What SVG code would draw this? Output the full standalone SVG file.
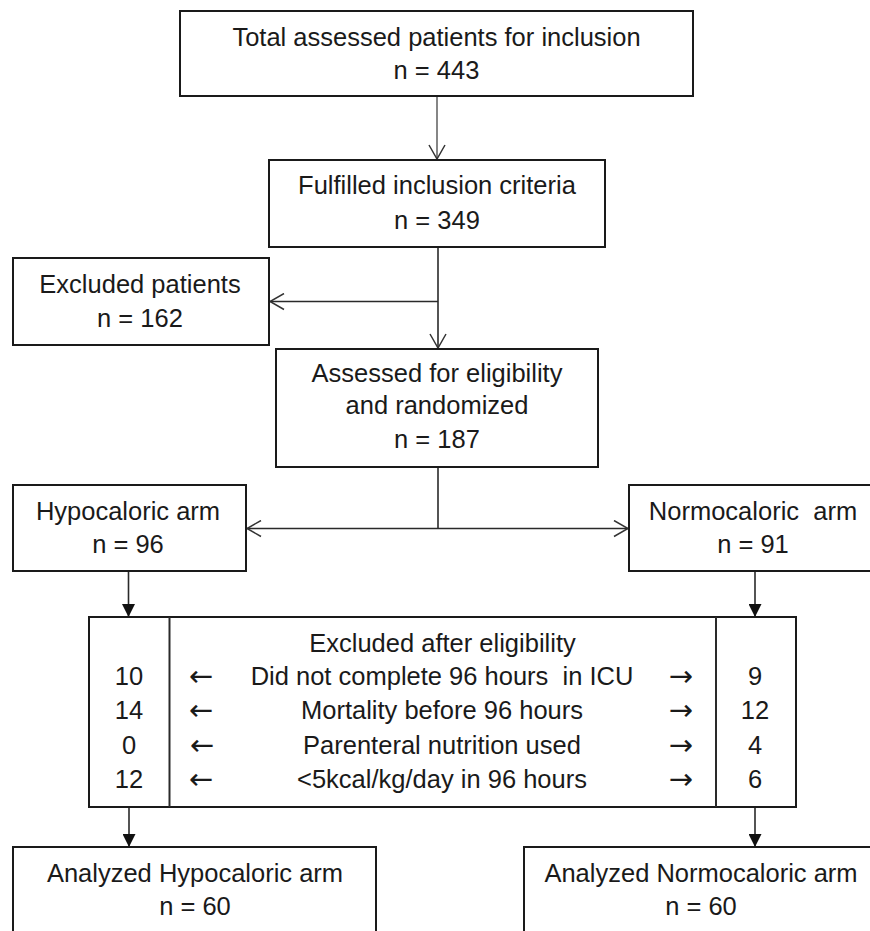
<svg xmlns="http://www.w3.org/2000/svg" width="870" height="931" viewBox="0 0 870 931">
<style>
  .box { fill: #ffffff; stroke: #1a1a1a; stroke-width: 2; }
  .t { font-family: "Liberation Sans", Arial, sans-serif; font-size: 25.5px; fill: #1a1a1a; text-anchor: middle; white-space: pre; }
  .ar { font-family: "DejaVu Sans", sans-serif; font-size: 29px; fill: #1a1a1a; text-anchor: middle; }
  .ln { fill: none; stroke: #2a2a2a; stroke-width: 1.6; }
  .lt { fill: none; stroke: #444; stroke-width: 1.3; }
</style>
<defs>
  <marker id="open" viewBox="0 0 16 18" refX="15" refY="9" markerWidth="16" markerHeight="18" orient="auto-start-reverse" markerUnits="userSpaceOnUse">
    <path d="M1,1 L15,9 L1,17" fill="none" stroke="#333" stroke-width="1.5"/>
  </marker>
  <marker id="solid" viewBox="0 0 13 13" refX="13" refY="6.5" markerWidth="13" markerHeight="13" orient="auto" markerUnits="userSpaceOnUse">
    <path d="M0,0 L13,6.5 L0,13 Z" fill="#111"/>
  </marker>
</defs>
<rect width="870" height="931" fill="#ffffff"/>

<g id="connectors">
  <path class="lt" d="M437,96 V159" marker-end="url(#open)"/>
  <path class="ln" d="M438,247 V348" marker-end="url(#open)"/>
  <path class="ln" d="M438,301.5 H270" marker-end="url(#open)"/>
  <path class="ln" d="M438,467 V528.5"/>
  <path class="ln" d="M438,528.5 H247" marker-end="url(#open)"/>
  <path class="ln" d="M438,528.5 H628" marker-end="url(#open)"/>
  <path class="ln" d="M128.5,571 V617" marker-end="url(#solid)"/>
  <path class="ln" d="M755,571 V617" marker-end="url(#solid)"/>
  <path class="ln" d="M129,807 V847" marker-end="url(#solid)"/>
  <path class="ln" d="M755,807 V847" marker-end="url(#solid)"/>
</g>

<g id="total">
  <rect class="box" x="180" y="11" width="513" height="85"/>
  <text class="t" x="436.5" y="45.5">Total assessed patients for inclusion</text>
  <text class="t" x="436.5" y="79">n = 443</text>
</g>

<g id="fulfilled">
  <rect class="box" x="269" y="160" width="336" height="87"/>
  <text class="t" x="437" y="194">Fulfilled inclusion criteria</text>
  <text class="t" x="437" y="229">n = 349</text>
</g>

<g id="excluded">
  <rect class="box" x="13" y="258" width="256" height="87"/>
  <text class="t" x="140" y="292.5">Excluded patients</text>
  <text class="t" x="140" y="326.5">n = 162</text>
</g>

<g id="assessed">
  <rect class="box" x="276" y="349" width="322" height="118"/>
  <text class="t" x="437" y="381.5">Assessed for eligibility</text>
  <text class="t" x="437" y="414">and randomized</text>
  <text class="t" x="437" y="448">n = 187</text>
</g>

<g id="hypocaloric">
  <rect class="box" x="13" y="485" width="233" height="86"/>
  <text class="t" x="128" y="520">Hypocaloric arm</text>
  <text class="t" x="128" y="553">n = 96</text>
</g>

<g id="normocaloric">
  <rect class="box" x="629" y="485" width="246" height="86"/>
  <text class="t" x="753" y="520">Normocaloric  arm</text>
  <text class="t" x="753" y="553">n = 91</text>
</g>

<g id="excluded-after">
  <rect class="box" x="89" y="617" width="707" height="190"/>
  <line class="ln" x1="169.5" y1="617" x2="169.5" y2="807" style="stroke-width:2"/>
  <line class="ln" x1="716" y1="617" x2="716" y2="807" style="stroke-width:2"/>
  <text class="t" x="442.5" y="651.5">Excluded after eligibility</text>
  <text class="t" x="442" y="685">Did not complete 96 hours  in ICU</text>
  <text class="t" x="442" y="719">Mortality before 96 hours</text>
  <text class="t" x="442" y="754">Parenteral nutrition used</text>
  <text class="t" x="442" y="788">&lt;5kcal/kg/day in 96 hours</text>
  <text class="t" x="129" y="685">10</text>
  <text class="t" x="129" y="719">14</text>
  <text class="t" x="129" y="754">0</text>
  <text class="t" x="129" y="788">12</text>
  <text class="t" x="755" y="685">9</text>
  <text class="t" x="755" y="719">12</text>
  <text class="t" x="755" y="754">4</text>
  <text class="t" x="755" y="788">6</text>
  <text class="ar" x="201" y="686">←</text>
  <text class="ar" x="201" y="720">←</text>
  <text class="ar" x="202" y="755">←</text>
  <text class="ar" x="201" y="789">←</text>
  <text class="ar" x="681" y="686">→</text>
  <text class="ar" x="681" y="720">→</text>
  <text class="ar" x="681" y="755">→</text>
  <text class="ar" x="681" y="789">→</text>
</g>

<g id="analyzed-hypo">
  <rect class="box" x="13" y="847" width="363" height="100"/>
  <text class="t" x="195" y="881.5">Analyzed Hypocaloric arm</text>
  <text class="t" x="195" y="915">n = 60</text>
</g>

<g id="analyzed-normo">
  <rect class="box" x="524" y="847" width="351" height="100"/>
  <text class="t" x="701" y="881.5">Analyzed Normocaloric arm</text>
  <text class="t" x="701" y="915">n = 60</text>
</g>
</svg>
